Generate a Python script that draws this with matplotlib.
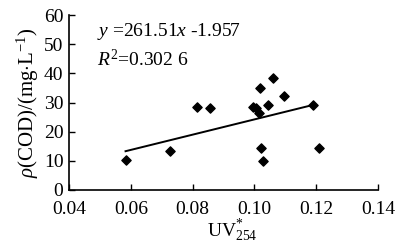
import matplotlib
matplotlib.use("Agg")
import matplotlib.pyplot as plt
import numpy as np

# UV254* vs COD scatter
uv254 = [0.0583, 0.0726, 0.0814, 0.0857, 0.0995, 0.1005, 0.1016, 0.1018,
         0.1022, 0.1027, 0.1045, 0.1060, 0.1097, 0.1190, 0.1208]
cod = [10.3, 13.5, 28.6, 28.0, 28.6, 28.0, 26.3, 35.1,
       14.5, 10.0, 29.0, 38.5, 32.2, 29.1, 14.5]

slope = 261.51
intercept = -1.957
fit_x = [0.0583, 0.1190]

xticks = [0.04, 0.06, 0.08, 0.10, 0.12, 0.14]
xtick_labels = ["0.04", "0.06", "0.08", "0.10", "0.12", "0.14"]
yticks = [0, 10, 20, 30, 40, 50, 60]

plt.rcParams["font.family"] = ["Liberation Serif", "DejaVu Serif"]
plt.rcParams["mathtext.fontset"] = "custom"
plt.rcParams["mathtext.rm"] = "Liberation Serif"
plt.rcParams["mathtext.it"] = "Liberation Serif:italic"

fig = plt.figure(figsize=(3.99, 2.47), dpi=100)
ax = fig.add_axes([0.173, 0.231, 0.774, 0.708])

ax.scatter(uv254, cod, marker="D", s=22, color="black", zorder=3)
fx = np.array(fit_x)
ax.plot(fx, slope * fx + intercept, color="black", lw=1.4)

ax.set_xlim(0.04, 0.14)
ax.set_ylim(0, 60)
ax.set_xticks(xticks)
ax.set_xticklabels(xtick_labels)
ax.set_yticks(yticks)
ax.tick_params(direction="in", labelsize=14, length=4, width=1)
ax.tick_params(axis="x", pad=8)
ax.tick_params(axis="y", pad=4)

for side in ("top", "right"):
    ax.spines[side].set_visible(False)
for side in ("left", "bottom"):
    ax.spines[side].set_linewidth(1.2)

ax.text(0.092, 0.965, r"$y$ =261.51$x$ -1.957", transform=ax.transAxes,
        fontsize=14, va="top", ha="left")
ax.text(0.092, 0.805, r"$R^2$=0.302 6", transform=ax.transAxes,
        fontsize=14, va="top", ha="left")

ax.set_ylabel(r"$\rho$(COD)/(mg$\cdot$L$^{-1}$)", fontsize=15, labelpad=2)
ax.set_xlabel(r"UV$_{254}^{*}$", fontsize=14, labelpad=0)
ax.xaxis.label.set_x(0.53)

fig.savefig("out.png", dpi=100)
